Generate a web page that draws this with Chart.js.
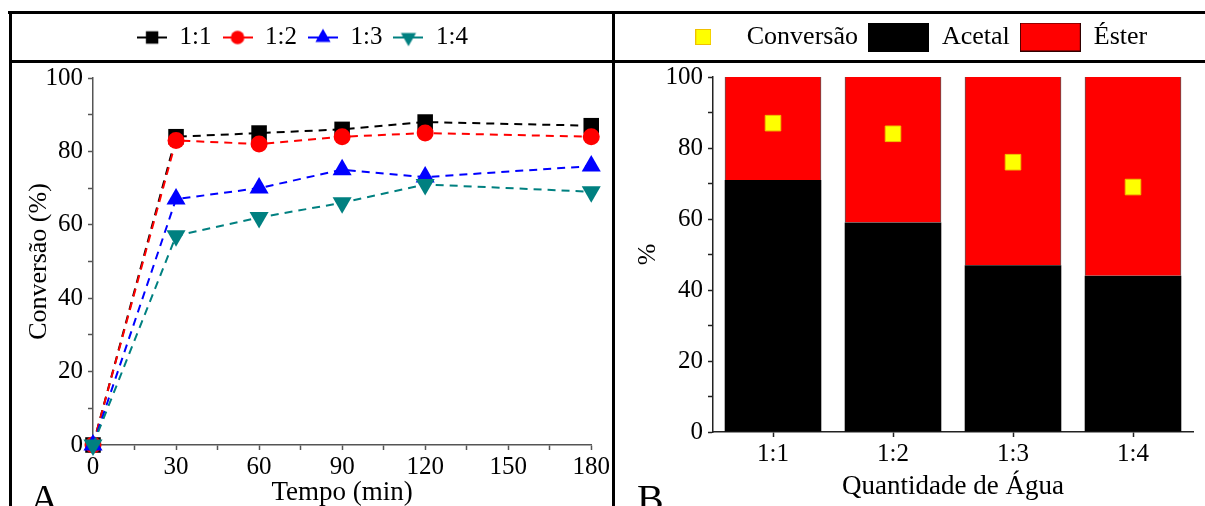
<!DOCTYPE html>
<html>
<head>
<meta charset="utf-8">
<script src="https://cdn.jsdelivr.net/npm/chart.js@4.4.1/dist/chart.umd.min.js"></script>
<style>
  body { margin: 0; width: 1205px; height: 506px; overflow: hidden; background: #fff; position: relative; }
  .panel { position: absolute; }
  .rule { position: absolute; background: #000; z-index: 2; }
  .tag { position: absolute; font: 40px "Liberation Serif", "Times New Roman", serif; line-height: 40px; color: #000; }
</style>
</head>
<body>
<div class="panel" style="left:12px; top:14px; width:600px; height:492px"><canvas id="chartA"></canvas></div>
<div class="panel" style="left:615px; top:14px; width:590px; height:492px"><canvas id="chartB"></canvas></div>

<div class="rule" style="left:8px; top:11px; width:1197px; height:3px"></div>
<div class="rule" style="left:9px; top:11px; width:3px; height:495px"></div>
<div class="rule" style="left:9px; top:60px; width:1196px; height:3px"></div>
<div class="rule" style="left:612px; top:11px; width:3px; height:495px"></div>

<div class="tag" style="left:30px; top:479px">A</div>
<div class="tag" style="left:637px; top:479px">B</div>

<script>
// conversion vs time for each water ratio
const times = [0, 30, 60, 90, 120, 180];
const conv11 = [0, 84, 85, 86, 88, 87];
const conv12 = [0, 83, 82, 84, 85, 84];
const conv13 = [0, 67, 70, 75, 73, 76];
const conv14 = [0, 57, 62, 66, 71, 69];

// product distribution after 180 min
const waterLabels = ['1:1', '1:2', '1:3', '1:4'];
const acetal = [71, 59, 47, 44];
const ester = [29, 41, 53, 56];
const conversion = [87, 84, 76, 69];

// labelled ticks (the others are minor ticks)
const timeTicks = [0, 30, 60, 90, 120, 150, 180];
const percentTicks = [0, 20, 40, 60, 80, 100];

Chart.defaults.font.family = '"Liberation Serif", "Times New Roman", serif';
Chart.defaults.font.size = 25;
Chart.defaults.color = '#000';
Chart.defaults.animation = false;

const titleFont = { size: 27 };

// legend sits in the header box, so push the plot down below it
function legendGap(height) {
  return {
    id: 'legendGap',
    beforeInit(chart) {
      if (!chart.legend) return;
      const fit = chart.legend.fit;
      chart.legend.fit = function () {
        fit.call(this);
        this.height = height;
      };
    }
  };
}

function lineSample(color, style, radius, rotation) {
  const c = document.createElement('canvas');
  c.width = 30; c.height = 26;
  const g = c.getContext('2d');
  g.strokeStyle = color;
  g.lineWidth = 2;
  g.beginPath(); g.moveTo(0, 13); g.lineTo(30, 13); g.stroke();
  g.fillStyle = color;
  Chart.helpers.drawPoint(g, { pointStyle: style, radius: radius, rotation: rotation, borderWidth: 0 }, 15, 13);
  return c;
}

function swatch(fill, stroke, w, h) {
  const c = document.createElement('canvas');
  c.width = w; c.height = h;
  const g = c.getContext('2d');
  g.fillStyle = fill;
  g.fillRect(0, 0, w, h);
  if (stroke) {
    g.strokeStyle = stroke;
    g.lineWidth = 1;
    g.strokeRect(0.5, 0.5, w - 1, h - 1);
  }
  return c;
}

const series = [
  { label: '1:1', values: conv11, color: '#000000', style: 'rect', radius: 11, rotation: 0, order: 3 },
  { label: '1:2', values: conv12, color: '#ff0000', style: 'circle', radius: 8.5, rotation: 0, order: 2 },
  { label: '1:3', values: conv13, color: '#0000ff', style: 'triangle', radius: 11, rotation: 0, order: 1 },
  { label: '1:4', values: conv14, color: '#008080', style: 'triangle', radius: 11, rotation: 180, order: 0 }
];

const axisGrey = '#555';

new Chart(document.getElementById('chartA'), {
  type: 'line',
  data: {
    datasets: series.map(s => ({
      label: s.label,
      data: times.map((t, i) => ({ x: t, y: s.values[i] })),
      borderColor: s.color,
      backgroundColor: s.color,
      borderWidth: 2,
      borderDash: [8, 6],
      pointStyle: s.style,
      pointRadius: s.radius,
      pointRotation: s.rotation,
      pointBorderWidth: 0,
      clip: false,
      order: s.order
    }))
  },
  options: {
    responsive: true,
    maintainAspectRatio: false,
    events: [],
    layout: { padding: { left: 0, right: 19, top: 0, bottom: 0 } },
    plugins: {
      tooltip: { enabled: false },
      legend: {
        position: 'top',
        labels: {
          usePointStyle: true,
          pointStyleWidth: 30,
          boxHeight: 25,
          padding: 11,
          generateLabels: () => series.map((s, i) => ({
            text: s.label,
            pointStyle: lineSample(s.color, s.style, s.radius * 0.8, s.rotation),
            fillStyle: s.color,
            strokeStyle: s.color,
            lineWidth: 0,
            fontColor: '#000',
            hidden: false,
            datasetIndex: i
          }))
        }
      }
    },
    scales: {
      x: {
        type: 'linear',
        min: 0,
        max: 180,
        afterFit(scale) { scale.height = 61; },
        border: { color: axisGrey, width: 1.5 },
        grid: { drawOnChartArea: false, tickLength: 5, tickColor: axisGrey, tickWidth: 1.5 },
        ticks: {
          stepSize: 15,
          autoSkip: false,
          maxRotation: 0,
          padding: 2,
          callback: v => timeTicks.includes(v) ? String(v) : ''
        },
        title: { display: true, text: 'Tempo (min)', font: titleFont, padding: { top: 0, bottom: -3 } }
      },
      y: {
        min: 0,
        max: 100,
        afterFit(scale) { scale.width = 81; },
        border: { color: axisGrey, width: 1.5 },
        grid: { drawOnChartArea: false, tickLength: 5, tickColor: axisGrey, tickWidth: 1.5 },
        ticks: {
          stepSize: 10,
          autoSkip: false,
          padding: 5,
          callback: v => percentTicks.includes(v) ? String(v) : ''
        },
        title: { display: true, text: 'Conversão (%)', font: { size: 26 }, padding: { top: 12, bottom: 0 } }
      }
    }
  },
  plugins: [legendGap(64)]
});

const axisDark = '#222';

const barLegend = [
  { text: 'Conversão', image: swatch('#ffff00', '#f0c000', 16, 16) },
  { text: 'Acetal', image: swatch('#000000', null, 61, 29) },
  { text: 'Éster', image: swatch('#ff0000', '#300000', 61, 29) }
];

new Chart(document.getElementById('chartB'), {
  type: 'bar',
  data: {
    labels: waterLabels,
    datasets: [
      {
        type: 'line',
        label: 'Conversão',
        data: conversion,
        showLine: false,
        pointStyle: 'rect',
        pointRadius: 11,
        pointBorderWidth: 1,
        backgroundColor: '#ffff00',
        borderColor: '#f0c000',
        order: 0
      },
      {
        label: 'Acetal',
        data: acetal,
        backgroundColor: '#000000',
        borderWidth: 0,
        barPercentage: 0.805,
        categoryPercentage: 1,
        order: 1
      },
      {
        label: 'Éster',
        data: ester,
        backgroundColor: '#ff0000',
        borderColor: '#300000',
        borderWidth: { left: 1, right: 1, top: 0, bottom: 0 },
        borderSkipped: false,
        barPercentage: 0.805,
        categoryPercentage: 1,
        order: 2
      }
    ]
  },
  options: {
    responsive: true,
    maintainAspectRatio: false,
    events: [],
    layout: { padding: 0 },
    plugins: {
      tooltip: { enabled: false },
      legend: {
        position: 'top',
        labels: {
          usePointStyle: true,
          pointStyleWidth: 61,
          boxHeight: 26,
          padding: 10,
          font: { size: 26 },
          generateLabels: () => barLegend.map((item, i) => ({
            text: item.text,
            pointStyle: item.image,
            fillStyle: '#000',
            lineWidth: 0,
            fontColor: '#000',
            hidden: false,
            datasetIndex: i
          }))
        }
      }
    },
    scales: {
      x: {
        stacked: true,
        offset: true,
        afterFit(scale) { scale.height = 74; },
        border: { color: axisDark, width: 1.5 },
        grid: { drawOnChartArea: false, offset: false, tickLength: 5, tickColor: axisDark, tickWidth: 1.5 },
        ticks: { padding: 2, maxRotation: 0 },
        title: { display: true, text: 'Quantidade de Água', font: titleFont, padding: { top: 0, bottom: 3 } }
      },
      y: {
        stacked: true,
        min: 0,
        max: 100,
        afterFit(scale) { scale.width = 98; },
        border: { color: axisDark, width: 1.5 },
        grid: { drawOnChartArea: false, tickLength: 5, tickColor: axisDark, tickWidth: 1.5 },
        ticks: {
          stepSize: 10,
          autoSkip: false,
          padding: 5,
          callback: v => percentTicks.includes(v) ? String(v) : ''
        },
        title: { display: true, text: '%', font: { size: 26 }, padding: { top: 18, bottom: 0 } }
      }
    }
  },
  plugins: [legendGap(63)]
});
</script>
</body>
</html>
